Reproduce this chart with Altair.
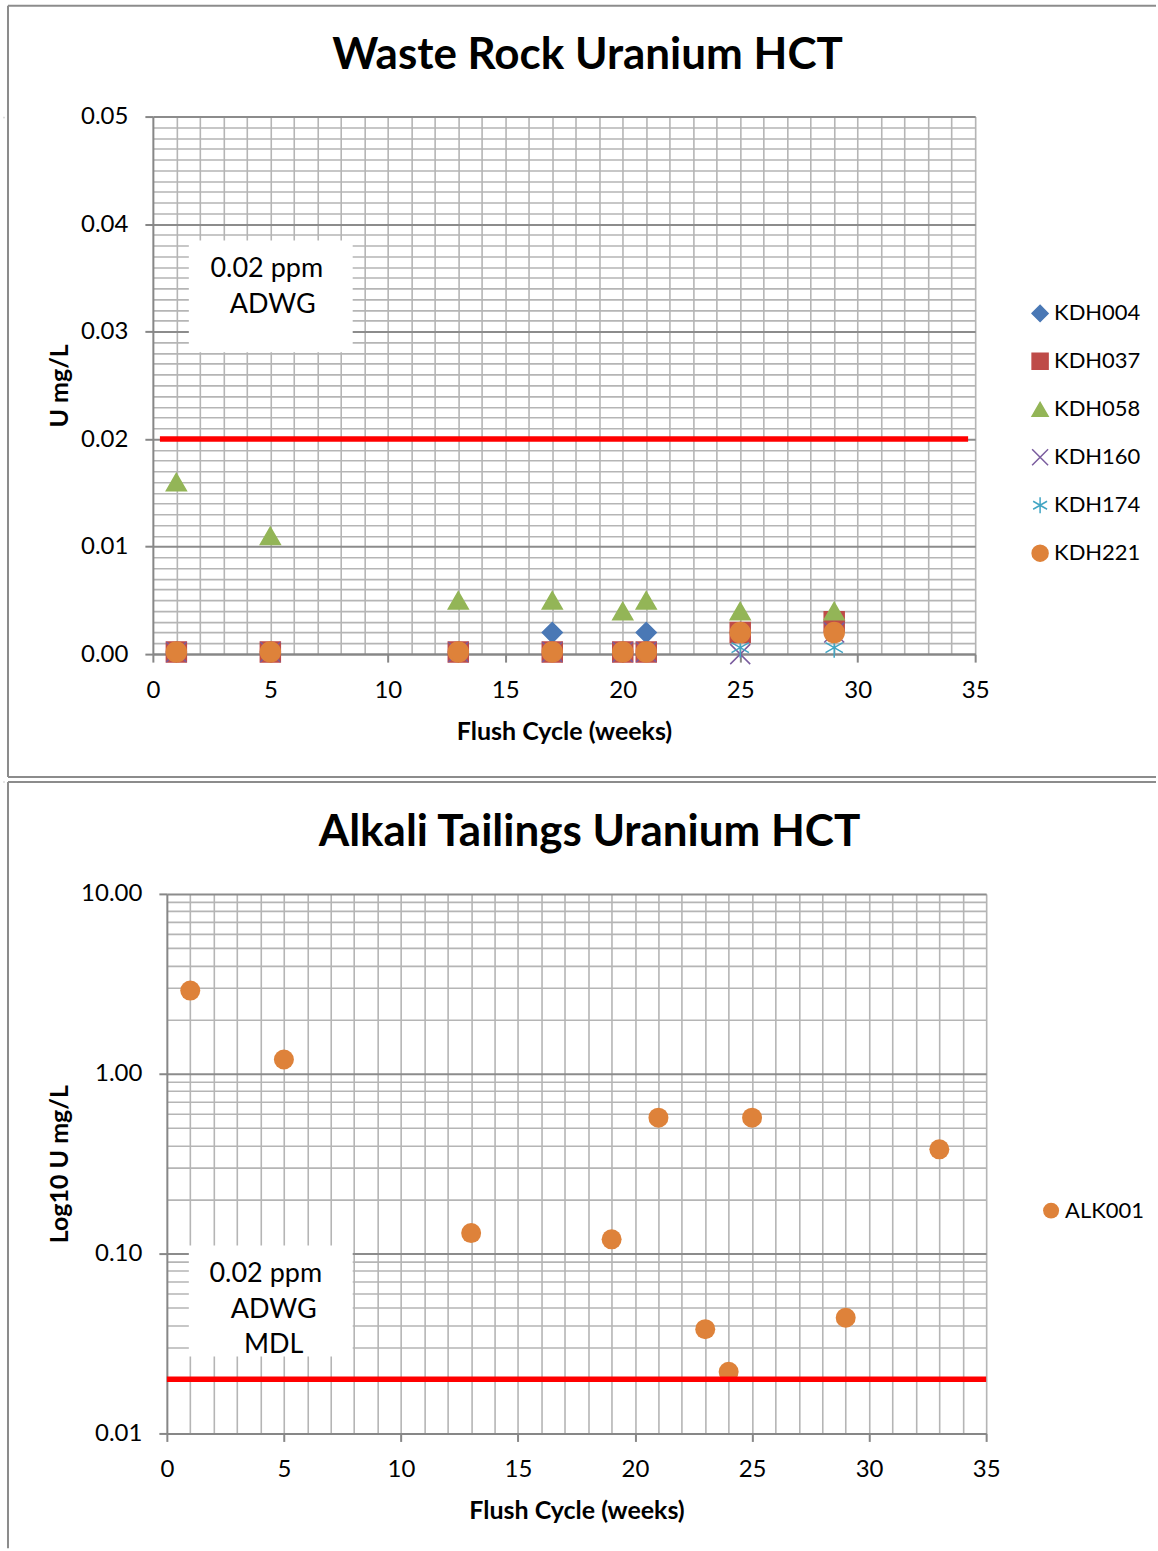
import altair as alt
import pandas as pd

# ---------------- Waste rock HCT (U mg/L by flush week) ----------------
wr_weeks = [1, 5, 13, 17, 20, 21, 25, 29]
kdh004 = [0.0002, 0.0002, 0.0002, 0.002, 0.0002, 0.002, 0.002, 0.003]
kdh037 = [0.0002, 0.0002, 0.0002, 0.0002, 0.0002, 0.0002, 0.002, 0.003]
kdh058 = [0.016, 0.011, 0.005, 0.005, 0.004, 0.005, 0.004, 0.004]
kdh160 = [0.0002, 0.0002, 0.0002, 0.0002, 0.0002, 0.0002, 0.0, 0.002]
kdh174 = [0.0002, 0.0002, 0.0002, 0.0002, 0.0002, 0.0002, 0.0006, 0.0006]
kdh221 = [0.0002, 0.0002, 0.0002, 0.0002, 0.0002, 0.0002, 0.002, 0.002]

wr_series = ["KDH004", "KDH037", "KDH058", "KDH160", "KDH174", "KDH221"]
wr_values = [kdh004, kdh037, kdh058, kdh160, kdh174, kdh221]
wr_colors = ["#4A78B5", "#BE4B48", "#93B557", "#7A5C9E", "#41A5C3", "#DE823A"]
wr_shapes = [
    "diamond",
    "square",
    "triangle-up",
    "M-1,-1L1,1M-1,1L1,-1",
    "M0,-1L0,1M-0.87,-0.5L0.87,0.5M-0.87,0.5L0.87,-0.5",
    "circle",
]

# ---------------- Alkali tailings HCT ----------------
alk_weeks = [1, 5, 13, 19, 21, 23, 24, 25, 29, 33]
alk001 = [2.9, 1.2, 0.13, 0.12, 0.57, 0.038, 0.022, 0.57, 0.044, 0.38]
alk_color = "#DE823A"

adwg_limit = 0.02
wr_limit_span = [0.3, 34.7]
alk_limit_span = [0, 35]

x_major = [0, 5, 10, 15, 20, 25, 30, 35]
x_minor = list(range(1, 36))
wr_y_major = [0, 0.01, 0.02, 0.03, 0.04, 0.05]
wr_y_minor = [round(i * 0.001, 4) for i in range(1, 50) if i % 10]
alk_y_major = [0.01, 0.1, 1, 10]
alk_y_minor = [round(m * d, 4) for d in (0.01, 0.1, 1) for m in range(2, 10)]

FONT = "Lato"
GRID_MINOR = "#B5B5B5"
GRID_MAJOR = "#8C8C8C"
AXIS_GRAY = "#878787"
FRAME = "#8C8C8C"
RED = "#FF0000"

TICK_FS = 24
AXIS_TITLE_FS = 25
TITLE_FS = 44
NOTE_FS = 27
LEGEND_FS = 22

wr_df = pd.DataFrame(
    [
        {"series": s, "week": w, "u": v}
        for s, vals in zip(wr_series, wr_values)
        for w, v in zip(wr_weeks, vals)
    ]
)
alk_df = pd.DataFrame({"series": "ALK001", "week": alk_weeks, "u": alk001})

one = pd.DataFrame({"k": [0]})


def frame(left, top, right, bottom=None):
    base = alt.Chart(one).mark_rule(color=FRAME, strokeWidth=2)
    low = bottom if bottom is not None else 655
    parts = [
        base.encode(x=alt.value(left), y=alt.value(top), y2=alt.value(low)),
        base.encode(x=alt.value(left), x2=alt.value(right), y=alt.value(top)),
    ]
    if bottom is not None:
        parts.append(base.encode(x=alt.value(left), x2=alt.value(right), y=alt.value(bottom)))
    return parts


def text_box(x0, x1, y0, y1, lines):
    box = alt.Chart(one).mark_rect(color="white").encode(
        x=alt.value(x0), x2=alt.value(x1), y=alt.value(y0), y2=alt.value(y1)
    )
    texts = [
        alt.Chart(one)
        .mark_text(text=t, fontSize=NOTE_FS, font=FONT, color="black", baseline="middle", align="center")
        .encode(x=alt.value(tx), y=alt.value(ty))
        for t, tx, ty in lines
    ]
    return [box] + texts


def title_text(t, x):
    return (
        alt.Chart(one)
        .mark_text(text=t, fontSize=TITLE_FS, font=FONT, fontWeight="bold", color="black",
                   baseline="middle", align="center")
        .encode(x=alt.value(x), y=alt.value(-61))
    )


def minor_x_axis():
    return alt.Axis(values=x_minor, grid=True, gridColor=GRID_MINOR, gridWidth=1.6,
                    labels=False, ticks=False, domain=False, title=None, orient="bottom")


def major_x_axis():
    return alt.Axis(values=x_major, grid=False, orient="bottom", labelFlush=False,
                    domainColor=AXIS_GRAY, domainWidth=2, tickColor=AXIS_GRAY, tickWidth=2,
                    tickSize=8, labelFontSize=TICK_FS, labelColor="black", labelPadding=16,
                    labelFont=FONT, title="Flush Cycle (weeks)", titleFontSize=AXIS_TITLE_FS,
                    titleFont=FONT, titleFontWeight="bold", titleColor="black",
                    titleY=77, titleBaseline="middle")


def major_y_axis(values, title, title_x, h):
    return alt.Axis(values=values, format=".2f", grid=True, gridColor=GRID_MAJOR,
                    gridWidth=2, orient="left", labelFlush=False,
                    domainColor=AXIS_GRAY, domainWidth=2,
                    tickColor=AXIS_GRAY, tickWidth=2, tickSize=8, labelFontSize=TICK_FS,
                    labelFont=FONT, labelColor="black", labelPadding=17,
                    title=title, titleFontSize=AXIS_TITLE_FS, titleFont=FONT,
                    titleFontWeight="bold", titleColor="black",
                    titleX=title_x, titleY=h / 2, titleBaseline="middle")


def series_legend(x, y):
    return alt.Legend(orient="none", legendX=x, legendY=y, title=None,
                      labelFontSize=LEGEND_FS, labelFont=FONT, labelColor="black",
                      symbolSize=256, rowPadding=26, labelOffset=3, padding=0,
                      symbolStrokeWidth=1.5)


# ---------------- Top panel ----------------
W1, H1 = 823, 538
wr_xscale = alt.Scale(domain=[0, 35], nice=False, zero=False)
wr_yscale = alt.Scale(domain=[0, 0.05], nice=False)
wr_legend = series_legend(877, 186)

wr_points = alt.Chart(wr_df).mark_point(filled=True, size=400, strokeWidth=1.5, opacity=1).encode(
    x=alt.X("week:Q", scale=wr_xscale, axis=minor_x_axis()),
    y=alt.Y("u:Q", scale=wr_yscale,
            axis=alt.Axis(values=wr_y_minor, grid=True, gridColor=GRID_MINOR, gridWidth=1.6,
                          labels=False, ticks=False, domain=False, title=None, orient="left")),
    color=alt.Color("series:N", scale=alt.Scale(domain=wr_series, range=wr_colors), legend=wr_legend),
    stroke=alt.Stroke("series:N", scale=alt.Scale(domain=wr_series, range=wr_colors), legend=wr_legend),
    shape=alt.Shape("series:N", scale=alt.Scale(domain=wr_series, range=wr_shapes), legend=wr_legend),
)

wr_limit_df = pd.DataFrame({"x0": [wr_limit_span[0]], "x1": [wr_limit_span[1]], "limit": [adwg_limit]})
wr_limit = alt.Chart(wr_limit_df).mark_rule(color=RED, strokeWidth=5.5).encode(
    x=alt.X("x0:Q", scale=wr_xscale, axis=major_x_axis()),
    x2="x1:Q",
    y=alt.Y("limit:Q", scale=wr_yscale, axis=major_y_axis(wr_y_major, "U mg/L", -93, H1)),
)

top = alt.layer(
    *frame(-145, -111, 1004, 661),
    *text_box(36, 200, 124, 236, [("0.02 ppm", 114, 153), ("ADWG", 120, 189)]),
    wr_points,
    wr_limit,
    title_text("Waste Rock Uranium HCT", 435),
).resolve_axis(x="independent", y="independent").properties(width=W1, height=H1)

# ---------------- Bottom panel ----------------
W2, H2 = 820, 540
alk_xscale = alt.Scale(domain=[0, 35], nice=False, zero=False)
alk_yscale = alt.Scale(type="log", domain=[0.01, 10], nice=False)

alk_points = alt.Chart(alk_df).mark_point(filled=True, size=400, opacity=1, shape="circle").encode(
    x=alt.X("week:Q", scale=alk_xscale, axis=minor_x_axis()),
    y=alt.Y("u:Q", scale=alk_yscale,
            axis=alt.Axis(values=alk_y_minor, grid=True, gridColor=GRID_MINOR, gridWidth=1.6,
                          labels=False, ticks=False, domain=False, title=None, orient="left")),
    color=alt.Color("series:N", scale=alt.Scale(domain=["ALK001"], range=[alk_color]),
                    legend=alt.Legend(orient="none", legendX=874, legendY=306, title=None,
                                      labelFontSize=LEGEND_FS, labelFont=FONT, labelColor="black",
                                      symbolSize=256, symbolType="circle", labelOffset=3,
                                      padding=0)),
)

alk_limit_df = pd.DataFrame({"x0": [alk_limit_span[0]], "x1": [alk_limit_span[1]], "limit": [adwg_limit]})
alk_limit = alt.Chart(alk_limit_df).mark_rule(color=RED, strokeWidth=5.5).encode(
    x=alt.X("x0:Q", scale=alk_xscale, axis=major_x_axis()),
    x2="x1:Q",
    y=alt.Y("limit:Q", scale=alk_yscale, axis=major_y_axis(alk_y_major, "Log10 U mg/L", -107, H2)),
)

bottom = alt.layer(
    *frame(-159, -112, 990),
    *text_box(22, 186, 352, 463, [("0.02 ppm", 99, 380), ("ADWG", 107, 416), ("MDL", 107, 451)]),
    alk_points,
    alk_limit,
    title_text("Alkali Tailings Uranium HCT", 423),
).resolve_axis(x="independent", y="independent").properties(width=W2, height=H2)


# A narrow blank first column: panels in the second column are placed by
# their full bounds, so both frames share the same left edge.
def spacer():
    return (
        alt.Chart(one)
        .mark_rule(opacity=0, strokeWidth=1)
        .encode(x=alt.value(0), y=alt.value(0), y2=alt.value(1))
        .properties(width=1, height=1)
    )


chart = (
    alt.concat(spacer(), top, spacer(), bottom, columns=2, spacing=1, align="none")
    .resolve_scale(color="independent", shape="independent", stroke="independent")
    .resolve_legend(color="independent", shape="independent", stroke="independent")
    .properties(padding={"left": 2, "top": 3, "right": 0, "bottom": 0}, background="white")
    .configure_view(stroke=None)
    .configure(font=FONT)
)

chart.save("out.html", embed_options={"renderer": "svg", "actions": False})
